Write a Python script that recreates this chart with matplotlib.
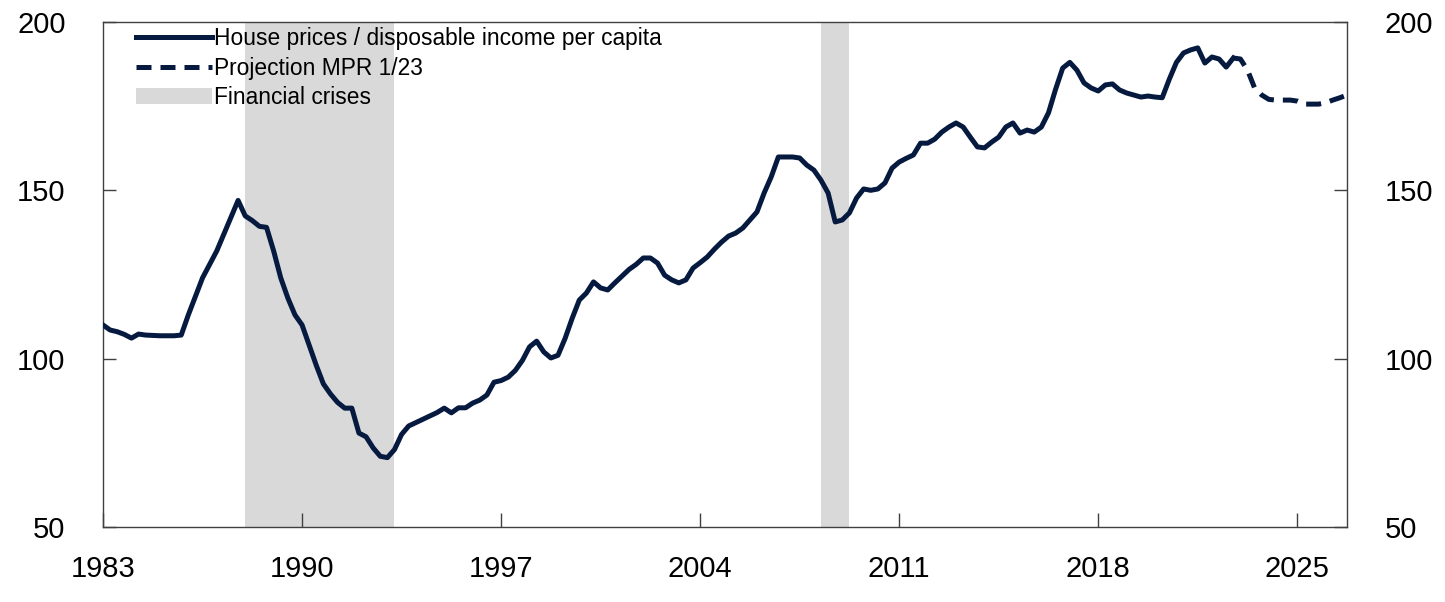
import numpy as np
import matplotlib
matplotlib.use("Agg")
import matplotlib.pyplot as plt
from matplotlib.lines import Line2D
from matplotlib.patches import Patch

plt.rcParams['font.family'] = ['Liberation Sans', 'DejaVu Sans']

# quarterly history, 1983Q1 - 2022Q4
history = [
    110.0, 108.5, 108.0, 107.2,   # 1983
    106.1, 107.3, 107.0, 106.9,   # 1984
    106.8, 106.8, 106.8, 107.0,   # 1985
    113.0, 118.5, 124.0, 128.0,   # 1986
    132.0, 137.0, 142.0, 147.0,   # 1987
    142.4, 141.0, 139.3, 139.0,   # 1988
    132.0, 124.0, 118.0, 113.0,   # 1989
    110.0, 104.0, 98.0, 92.5,     # 1990
    89.5, 87.0, 85.3, 85.3,       # 1991
    77.9, 76.8, 73.5, 71.0,       # 1992
    70.6, 73.0, 77.5, 80.0,       # 1993
    81.0, 82.0, 83.0, 84.0,       # 1994
    85.3, 83.9, 85.4, 85.4,       # 1995
    86.8, 87.7, 89.2, 93.0,       # 1996
    93.5, 94.5, 96.5, 99.5,       # 1997
    103.5, 105.2, 102.0, 100.2,   # 1998
    101.0, 106.0, 112.0, 117.4,   # 1999
    119.5, 122.8, 121.0, 120.4,   # 2000
    122.5, 124.5, 126.5, 128.0,   # 2001
    129.9, 129.9, 128.4, 124.8,   # 2002
    123.4, 122.5, 123.4, 126.9,   # 2003
    128.5, 130.2, 132.5, 134.6,   # 2004
    136.4, 137.3, 138.8, 141.2,   # 2005
    143.6, 149.2, 154.0, 159.9,   # 2006
    159.9, 159.9, 159.6, 157.5,   # 2007
    156.0, 153.0, 149.2, 140.6,   # 2008
    141.2, 143.3, 147.7, 150.4,   # 2009
    150.0, 150.4, 152.2, 156.6,   # 2010
    158.4, 159.5, 160.5, 164.0,   # 2011
    164.0, 165.2, 167.3, 168.8,   # 2012
    170.0, 168.8, 165.8, 162.9,   # 2013
    162.6, 164.3, 165.8, 168.8,   # 2014
    170.0, 167.0, 167.9, 167.3,   # 2015
    168.8, 173.0, 180.0, 186.3,   # 2016
    188.0, 185.7, 181.9, 180.4,   # 2017
    179.5, 181.3, 181.6, 179.8,   # 2018
    178.9, 178.3, 177.7, 178.0,   # 2019
    177.7, 177.5, 183.0, 188.0,   # 2020
    190.8, 191.7, 192.3, 187.8,   # 2021
    189.6, 189.0, 186.6, 189.3,   # 2022
]
# projection MPR 1/23, 2022Q4 - 2026Q4
projection = [
    189.3,
    189.0, 185.7, 180.4, 178.3,   # 2023
    177.0, 176.8, 176.8, 176.8,   # 2024
    176.5, 175.6, 175.6, 175.6,   # 2025
    176.0, 176.8, 177.5, 178.3,   # 2026
]
crises = [(1988.0, 1993.25), (2008.25, 2009.25)]
year_ticks = [1983, 1990, 1997, 2004, 2011, 2018, 2025]

t_hist = 1983 + np.arange(len(history)) / 4
t_proj = t_hist[-1] + np.arange(len(projection)) / 4

navy = '#061a40'
grey = '#d9d9d9'

fig = plt.figure(figsize=(14.45, 6.02), dpi=100)
ax = fig.add_axes([0.0713, 0.1246, 0.8609, 0.8389])

for start, end in crises:
    ax.axvspan(start, end, color=grey, lw=0, zorder=1)

ax.plot(t_hist, history, color=navy, lw=3.6, zorder=3, solid_joinstyle='round')
ax.plot(t_proj, projection, color=navy, lw=3.6, zorder=3, dashes=(3, 1.8))

ax.set_xlim(1983, t_proj[-1])
ax.set_ylim(50, 200)
ax.set_yticks([50, 100, 150, 200])
ax.set_xticks(year_ticks)

ax.tick_params(axis='y', direction='in', length=9.5, width=1, color='#404040',
               left=True, right=True, labelleft=True, labelright=True,
               labelsize=21, pad=27)
ax.tick_params(axis='x', direction='in', length=10, width=1, color='#404040',
               labelsize=21, pad=20)
for s in ax.spines.values():
    s.set_color('#404040')
    s.set_linewidth(1.0)

handles = [
    Line2D([], [], color=navy, lw=3.6),
    Line2D([], [], color=navy, lw=3.6, dashes=(3, 1.8)),
    Patch(facecolor=grey, edgecolor='none'),
]
labels = ['House prices / disposable income per capita',
          'Projection MPR 1/23',
          'Financial crises']
ax.legend(handles, labels, loc='upper left', bbox_to_anchor=(0.0, 1.0),
          frameon=False, fontsize=16.4, handlelength=3.3, handletextpad=0.12,
          labelspacing=0.3, borderaxespad=0.1, borderpad=0.0,
          bbox_transform=ax.transAxes)
leg = ax.get_legend()
leg.set_bbox_to_anchor((0.025, 0.995))

fig.savefig('out.png', dpi=100)
